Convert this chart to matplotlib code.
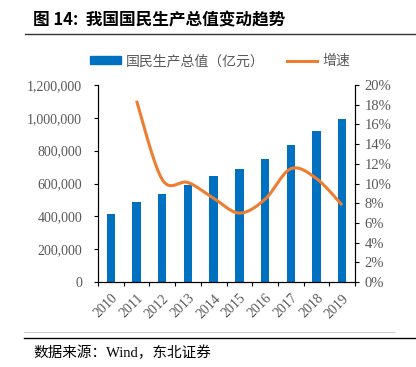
import matplotlib
matplotlib.use("Agg")
import matplotlib.pyplot as plt
import numpy as np
from matplotlib.lines import Line2D
from matplotlib.patches import Patch
from matplotlib.ticker import FuncFormatter, MultipleLocator

years = ["2010", "2011", "2012", "2013", "2014", "2015", "2016", "2017", "2018", "2019"]
gdp = [412119, 487940, 538580, 592963, 643563, 688858, 746395, 832036, 919281, 990865]
growth_years = ["2011", "2012", "2013", "2014", "2015", "2016", "2017", "2018", "2019"]
growth = [18.4, 10.4, 10.1, 8.5, 7.0, 8.4, 11.5, 10.5, 7.8]

title = "图 14:  我国国民生产总值变动趋势"
source = "数据来源：Wind，东北证券"
bar_label = "国民生产总值（亿元）"
line_label = "增速"

BLUE = "#0070C0"
ORANGE = "#ED7D31"
GRAY = "#595959"

cjk = ["Noto Sans CJK SC", "DejaVu Sans"]
serif = ["Liberation Serif", "Noto Sans CJK SC"]

fig = plt.figure(figsize=(4.16, 3.67), dpi=100)
W, H = 416, 367
ax = fig.add_axes([98 / W, 1 - 282 / H, (355 - 98) / W, (282 - 85) / H])

x = np.arange(len(years))
ax.bar(x, gdp, width=0.33, color=BLUE, zorder=2)
ax.set_xlim(-0.5, len(years) - 0.5)
ax.set_ylim(0, 1200000)
ax.yaxis.set_major_locator(MultipleLocator(200000))
ax.yaxis.set_major_formatter(FuncFormatter(lambda v, p: f"{int(v):,}"))
ax.set_xticks(np.arange(len(years) + 1) - 0.5)
ax.set_xticklabels([])
ax.set_xticks(x, minor=True)
ax.set_xticklabels(years, minor=True, rotation=45, ha="right", rotation_mode="anchor",
                   family=serif, fontsize=10, color=GRAY)
ax.tick_params(axis="x", which="minor", length=0, pad=7)
ax.tick_params(axis="x", which="major", length=3, width=0.8, direction="out")
ax.tick_params(axis="y", length=3, width=0.8, pad=8.5, labelsize=10, labelcolor=GRAY)
for lab in ax.get_yticklabels():
    lab.set_family(serif)
ax.spines["top"].set_visible(False)
for s in ["left", "right", "bottom"]:
    ax.spines[s].set_linewidth(0.8)

ax2 = ax.twinx()
ax2.set_ylim(0, 20)
ax2.yaxis.set_major_locator(MultipleLocator(2))
ax2.yaxis.set_major_formatter(FuncFormatter(lambda v, p: f"{int(round(v))}%"))
ax2.tick_params(axis="y", length=3, width=0.8, pad=4, labelsize=10.5, labelcolor=GRAY)
for lab in ax2.get_yticklabels():
    lab.set_family(serif)
ax2.spines["top"].set_visible(False)
ax2.spines["right"].set_linewidth(0.8)

# smoothed line (Catmull-Rom, like Excel smoothing)
gx = np.array([years.index(y) for y in growth_years], dtype=float)
gy = np.array(growth, dtype=float)
px = np.concatenate([[gx[0]], gx, [gx[-1]]])
py = np.concatenate([[gy[0]], gy, [gy[-1]]])
sx, sy = [], []
t = np.linspace(0, 1, 30)
for i in range(1, len(px) - 2):
    p0x, p1x, p2x, p3x = px[i - 1], px[i], px[i + 1], px[i + 2]
    p0y, p1y, p2y, p3y = py[i - 1], py[i], py[i + 1], py[i + 2]
    c1x = p1x + (p2x - p0x) / 6; c1y = p1y + (p2y - p0y) / 6
    c2x = p2x - (p3x - p1x) / 6; c2y = p2y - (p3y - p1y) / 6
    bx = (1 - t) ** 3 * p1x + 3 * (1 - t) ** 2 * t * c1x + 3 * (1 - t) * t ** 2 * c2x + t ** 3 * p2x
    by = (1 - t) ** 3 * p1y + 3 * (1 - t) ** 2 * t * c1y + 3 * (1 - t) * t ** 2 * c2y + t ** 3 * p2y
    sx.extend(bx); sy.extend(by)
ax2.plot(sx, sy, color=ORANGE, lw=2.2, solid_capstyle="butt", zorder=3)

handles = [Patch(color=BLUE), Line2D([0], [0], color=ORANGE, lw=2.2)]
fig.legend(handles, [bar_label, line_label], loc="center", bbox_to_anchor=(220 / W, 1 - 61 / H),
           ncol=2, frameon=False, handlelength=2.2, handleheight=0.5, columnspacing=1.6,
           handletextpad=0.35, prop={"family": cjk, "size": 10}, labelcolor=GRAY)

fig.text(33 / W, 1 - 20 / H, title, family=cjk, fontsize=12, fontweight="bold",
         va="center", ha="left")
fig.add_artist(Line2D([25 / W, 1.0], [1 - 34 / H] * 2, color="#333333", lw=1.0))
fig.add_artist(Line2D([24 / W, 394 / W], [1 - 332 / H] * 2, color="#cccccc", lw=0.8))
fig.add_artist(Line2D([24 / W, 1.0], [1 - 338 / H] * 2, color="black", lw=1.0))
fig.text(33 / W, 1 - 353 / H, source, family=serif, fontsize=10.5, va="center", ha="left")

fig.savefig("out.png", dpi=100)
